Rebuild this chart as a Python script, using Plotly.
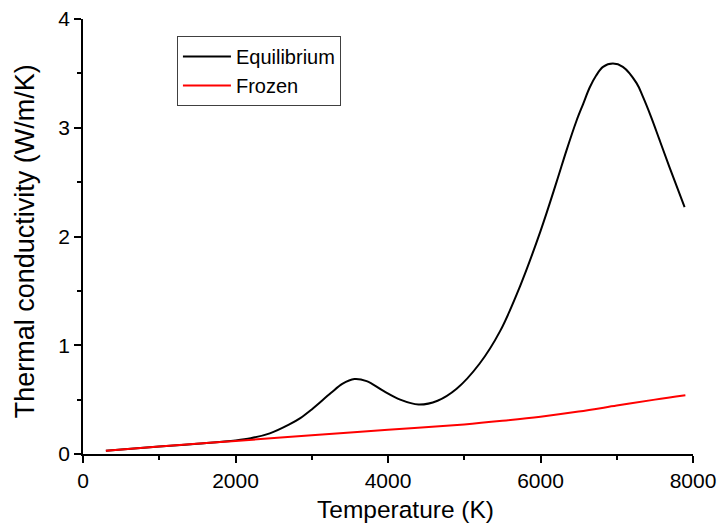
import plotly.graph_objects as go

eq_T = [300, 1000, 1500, 2000, 2200, 2450, 2700, 2850, 3000, 3250, 3400, 3560, 3720, 3940, 4160, 4400,
        4650, 4900, 5200, 5470, 5730, 6000, 6210, 6340, 6470, 6560, 6645, 6730, 6820, 6950,
        7080, 7260, 7340, 7450, 7560, 7690, 7890]
eq_k = [0.03, 0.068, 0.095, 0.125, 0.145, 0.19, 0.27, 0.33, 0.41, 0.56, 0.645, 0.69, 0.67, 0.58, 0.50, 0.455,
        0.49, 0.60, 0.83, 1.13, 1.54, 2.05, 2.50, 2.79, 3.06, 3.22, 3.37, 3.48, 3.56, 3.59,
        3.56, 3.41, 3.29, 3.10, 2.89, 2.64, 2.27]

fr_T = [300, 1000, 2000, 3000, 4000, 5000, 5500, 6000, 6500, 7000, 7500, 7900]
fr_k = [0.03, 0.068, 0.12, 0.172, 0.222, 0.272, 0.305, 0.343, 0.39, 0.445, 0.50, 0.54]

x_ticks = [0, 2000, 4000, 6000, 8000]
y_ticks = [0, 1, 2, 3, 4]

FONT = "Liberation Sans, Arial, sans-serif"

fig = go.Figure()
fig.add_trace(go.Scatter(x=eq_T, y=eq_k, mode="lines", name="Equilibrium",
                         line=dict(color="black", width=2, shape="spline", smoothing=1.0)))
fig.add_trace(go.Scatter(x=fr_T, y=fr_k, mode="lines", name="Frozen",
                         line=dict(color="#ff0000", width=2, shape="spline", smoothing=1.0)))

axis_common = dict(showline=True, linecolor="black", linewidth=1.5, ticks="outside",
                   ticklen=7, tickwidth=1.5, tickcolor="black", showgrid=False, zeroline=False,
                   automargin=False,
                   tickfont=dict(family=FONT, size=21, color="black"))

fig.update_xaxes(range=[0, 8000], tickvals=x_ticks,
                 minor=dict(ticks="outside", ticklen=4, dtick=1000, tickcolor="black", tickwidth=1.5),
                 **axis_common)
fig.update_yaxes(range=[0, 4], tickvals=y_ticks,
                 minor=dict(ticks="outside", ticklen=4, dtick=0.5, tickcolor="black", tickwidth=1.5),
                 **axis_common)

fig.add_annotation(text="Temperature (K)", xref="paper", yref="paper", x=0.5295, y=-0.1274,
                   xanchor="center", yanchor="middle", showarrow=False,
                   font=dict(family=FONT, size=24.5, color="black"))
fig.add_annotation(text="Thermal conductivity (W/m/K)", xref="paper", yref="paper", x=-0.095, y=0.489,
                   xanchor="center", yanchor="middle", textangle=-90, showarrow=False,
                   font=dict(family=FONT, size=27, color="black"))

fig.update_layout(
    width=718, height=529,
    margin=dict(l=83, r=25, t=19, b=75),
    plot_bgcolor="white", paper_bgcolor="white",
    legend=dict(x=0.154, y=0.961, xanchor="left", yanchor="top",
                bordercolor="#404040", borderwidth=1, bgcolor="white",
                font=dict(family=FONT, size=20, color="black"),
                tracegroupgap=0, itemwidth=48),
)

fig.write_html("out.html", config={"displayModeBar": False},
               post_script="document.body.style.margin='0px';")
